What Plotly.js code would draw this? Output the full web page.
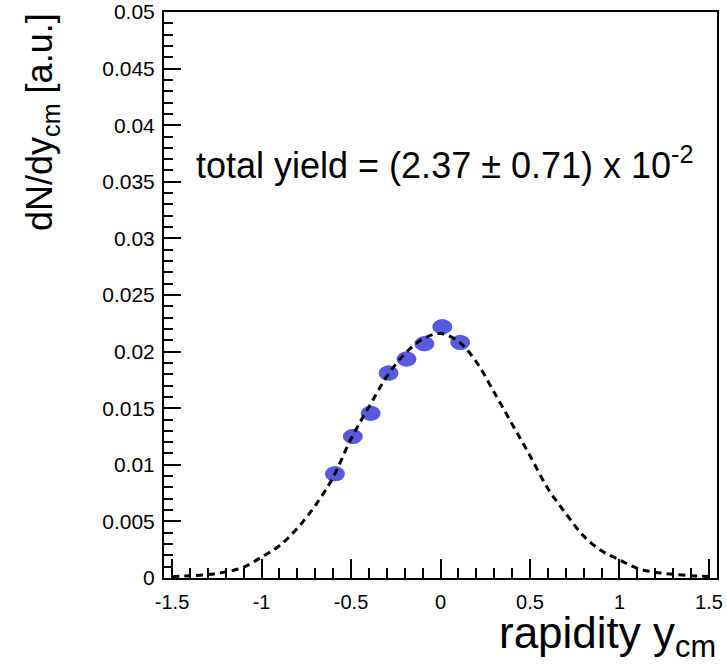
<!DOCTYPE html>
<html>
<head>
<meta charset="utf-8">
<script src="https://cdn.plot.ly/plotly-3.0.1.min.js"></script>
<style>html,body{margin:0;padding:0;background:#fff;}#chart{width:727px;height:666px;}</style>
</head>
<body>
<div id="chart"></div>
<script>
// measured data points (rapidity, dN/dy)
const pointX = [-0.59, -0.49, -0.39, -0.29, -0.19, -0.09, 0.01, 0.11];
const pointY = [0.0092, 0.0125, 0.01455, 0.0181, 0.01935, 0.0207, 0.0222, 0.0208];

// fitted curve
const curveX = [-1.5,-1.4,-1.3,-1.2,-1.1,-1.0,-0.9,-0.8,-0.7,-0.6,-0.5,-0.4,-0.3,-0.2,-0.1,0.0,
                0.1,0.2,0.3,0.4,0.5,0.6,0.7,0.8,0.9,1.0,1.1,1.2,1.3,1.4,1.5];
const curveY = [0.00012,0.0002,0.00031,0.00054,0.00095,0.00185,0.00285,0.0044,0.0064,0.0089,0.0123,0.0151,0.0178,0.0198,0.0211,0.0216,
                0.0209,0.0191,0.0164,0.0136,0.0108,0.0079,0.0057,0.0037,0.0024,0.0016,0.00085,0.0005,0.00033,0.0002,0.00014];

const xTickVals = [-1.5, -1, -0.5, 0, 0.5, 1, 1.5];
const xTickText = ['-1.5', '-1', '-0.5', '0', '0.5', '1', '1.5'];
const yTickVals = [0, 0.005, 0.01, 0.015, 0.02, 0.025, 0.03, 0.035, 0.04, 0.045, 0.05];
const yTickText = ['0', '0.005', '0.01', '0.015', '0.02', '0.025', '0.03', '0.035', '0.04', '0.045', '0.05'];

const xTitle = 'rapidity y<sub>cm</sub>';
const yTitle = 'dN/dy<sub>cm</sub> [a.u.]';
const yieldText = 'total yield = (2.37 ± 0.71) x 10<sup>-2</sup>';

const markerColor = 'rgb(90,90,222)';
const FONT = 'Liberation Sans, Arial, Helvetica, sans-serif';

const ellipses = pointX.map((x, i) => ({
  type: 'circle', xref: 'x', yref: 'y', layer: 'below',
  xsizemode: 'pixel', ysizemode: 'pixel',
  xanchor: x, yanchor: pointY[i],
  x0: -10, x1: 10, y0: -7.5, y1: 7.5,
  fillcolor: markerColor, line: {width: 0}
}));

const traces = [
  {x: pointX, y: pointY, type: 'scatter', mode: 'markers',
   marker: {color: markerColor, size: 15, symbol: 'circle', line: {width: 0}},
   hoverinfo: 'x+y', showlegend: false},
  {x: curveX, y: curveY, type: 'scatter', mode: 'lines',
   line: {color: '#000', width: 3, dash: '7px,5px', shape: 'spline', smoothing: 1},
   hoverinfo: 'skip', showlegend: false}
];

const axisCommon = {
  showgrid: false, zeroline: false, showline: true, linecolor: '#000', linewidth: 2,
  mirror: true, ticks: 'inside', tickcolor: '#000', tickwidth: 2
};

const layout = {
  width: 727, height: 666,
  margin: {l: 164, r: 10, t: 12, b: 88, pad: 0},
  paper_bgcolor: '#fff', plot_bgcolor: '#fff',
  showlegend: false,
  xaxis: Object.assign({}, axisCommon, {
    range: [-1.545, 1.545], tickmode: 'array', tickvals: xTickVals, ticktext: xTickText,
    ticklen: 19, ticklabelstandoff: 5,
    tickfont: {family: FONT, size: 20, color: '#000'},
    minor: {dtick: 0.1, tick0: 0, ticks: 'inside', ticklen: 10, tickwidth: 2, tickcolor: '#000', showgrid: false}
  }),
  yaxis: Object.assign({}, axisCommon, {
    range: [0, 0.05], tickmode: 'array', tickvals: yTickVals, ticktext: yTickText,
    ticklen: 17, ticklabelstandoff: 3,
    tickfont: {family: FONT, size: 21, color: '#000'},
    minor: {dtick: 0.001, tick0: 0, ticks: 'inside', ticklen: 9, tickwidth: 2, tickcolor: '#000', showgrid: false}
  }),
  shapes: ellipses,
  annotations: [
    {text: yieldText, xref: 'paper', yref: 'paper', x: 0.056, y: 0.734,
     xanchor: 'left', yanchor: 'middle', showarrow: false, borderpad: 0,
     font: {family: FONT, size: 36, color: '#000'}},
    {text: xTitle, xref: 'paper', yref: 'paper', x: 1, y: -0.103,
     xanchor: 'right', yanchor: 'middle', showarrow: false, borderpad: 0,
     font: {family: FONT, size: 44, color: '#000'}},
    {text: yTitle, xref: 'paper', yref: 'paper', x: -0.2206, y: 1, textangle: -90,
     xanchor: 'center', yanchor: 'top', showarrow: false, borderpad: 0,
     font: {family: FONT, size: 36, color: '#000'}}
  ]
};

Plotly.newPlot('chart', traces, layout, {displayModeBar: false, staticPlot: true});
</script>
</body>
</html>
